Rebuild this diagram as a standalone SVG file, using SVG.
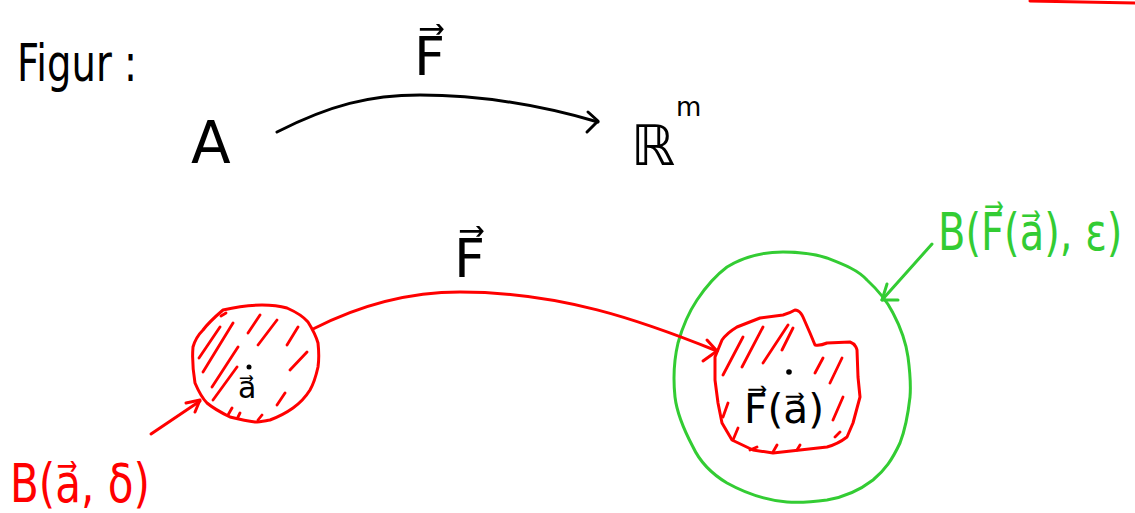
<svg xmlns="http://www.w3.org/2000/svg" width="1135" height="513" viewBox="0 0 1135 513">
<style>
.t{font-family:"DejaVu Sans","Liberation Sans",sans-serif;}
.k{fill:#000}
.r{fill:#ff0000}
.g{fill:#33cc33}
.ln{fill:none;stroke-width:3;stroke-linecap:round;stroke-linejoin:round}
.kl{stroke:#000}
.rl{stroke:#ff0000}
.gl{stroke:#33cc33}
.h{fill:none;stroke:#ff0000;stroke-width:2.8;stroke-linecap:round}
</style>
<rect width="1135" height="513" fill="#fff"/>
<g id="title">
<text class="t k" x="17" y="81" font-size="52" textLength="120" lengthAdjust="spacingAndGlyphs">Figur :</text>
</g>
<g id="nodeA">
<text class="t k" x="191" y="163" font-size="58">A</text>
</g>
<g id="nodeRm">
<text class="t k" x="631" y="165" font-size="56">ℝ</text>
<text class="t k" x="676" y="116" font-size="26">m</text>
</g>
<g id="ballA">
<path class="ln rl" d="M223,310 C240,306 250,305 262,305 C272,305 280,306 287,308 C296,312 303,316 308,322 C313,330 316,336 318,343 C319,352 319,360 318,367 C316,376 314,383 310,390 C305,398 300,403 293,408 C286,413 278,417 270,420 C264,421 260,422 255,422 C246,421 238,419 230,417 C222,413 214,409 207,403 C201,397 198,390 195,383 C193,371 192,359 193,347 C195,340 198,335 203,330 C209,322 216,316 223,310 Z"/>
<path class="h" d="M221,316 L226,313 M199,358 L220,327 M203,372 L233,323 M212,387 L238,347 M213,400 L237,367 M248,333 L260,315 M258,345 L277,320 M287,345 L298,327 M290,370 L307,352 M277,405 L285,393 M228,415 L232,408 M238,417 L240,413 M258,420 L262,415"/>
<circle cx="249" cy="367" r="2.5" fill="#000"/>
<text class="t k" x="238" y="398" font-size="30">a⃗</text>
</g>
<g id="imageBlob">
<path class="ln gl" d="M727,267 C745,256 765,252 783,252 C800,252 815,254 827,258 C845,265 858,270 867,280 C880,292 888,303 893,313 C902,330 906,343 908,357 C910,372 911,385 910,397 C908,415 905,430 900,443 C892,460 885,470 873,480 C860,490 845,497 827,500 C812,502 800,503 787,502 C765,500 745,493 727,483 C712,474 700,462 693,447 C684,430 677,414 675,397 C673,378 674,360 678,343 C683,325 689,312 697,300 C705,288 715,276 727,267 Z"/>
<path class="ln rl" d="M722,340 C727,333 737,327 737,327 L760,318 L783,315 C790,313 795,310 795,310 C800,310 803,317 803,317 L810,333 L815,345 C820,346 827,343 827,343 L850,342 C856,344 857,350 857,350 L858,377 L860,397 L853,423 L847,437 C838,444 827,447 827,447 L800,450 L773,453 L753,450 L732,440 L722,423 L718,403 L715,380 L715,357 Z"/>
<path class="h" d="M723,375 L743,337 M742,367 L763,327 M763,363 L788,325 M782,350 L793,328 M815,373 L823,358 M830,383 L842,358 M833,420 L843,397 M723,417 L728,403 M733,440 L738,428 M750,450 L757,447 M773,452 L777,445 M797,450 L800,445 M835,437 L840,432"/>
<circle cx="789" cy="372" r="2.8" fill="#000"/>
<text class="t k" x="744" y="423" font-size="40" textLength="80" lengthAdjust="spacingAndGlyphs">F⃗(a⃗)</text>
</g>
<g id="labelTopF">
<text class="t k" x="414" y="75" font-size="54">F⃗</text>
</g>
<g id="labelBottomF">
<text class="t k" x="454" y="277" font-size="54">F⃗</text>
</g>
<g id="labelBallA">
<text class="t r" x="10" y="502" font-size="54" textLength="140" lengthAdjust="spacingAndGlyphs">B(a⃗, δ)</text>
</g>
<g id="labelBallF">
<text class="t g" x="0" y="0" font-size="40" transform="translate(938,250) scale(1,1.3)">B(F⃗(a⃗), ε)</text>
</g>
<g id="connectors">
<path class="ln kl" d="M277,132 C330,105 370,95 420,95 C480,95 540,105 598,122"/>
<path class="ln kl" d="M588,112 L598,121 L587,132"/>
<path class="ln rl" d="M313,329 C360,305 410,292 460,292 C560,292 640,320 717,351"/>
<path class="ln rl" d="M707,340 L717,351 L703,361"/>
<path class="ln rl" d="M151,434 L200,401"/>
<path class="ln rl" d="M186,403 L200,400 L195,412"/>
<path class="ln gl" d="M932,244 L882,300"/>
<path class="ln gl" d="M887,284 L882,300 L898,300"/>
<path class="ln rl" d="M1030,1 L1135,3"/>
</g>
</svg>
